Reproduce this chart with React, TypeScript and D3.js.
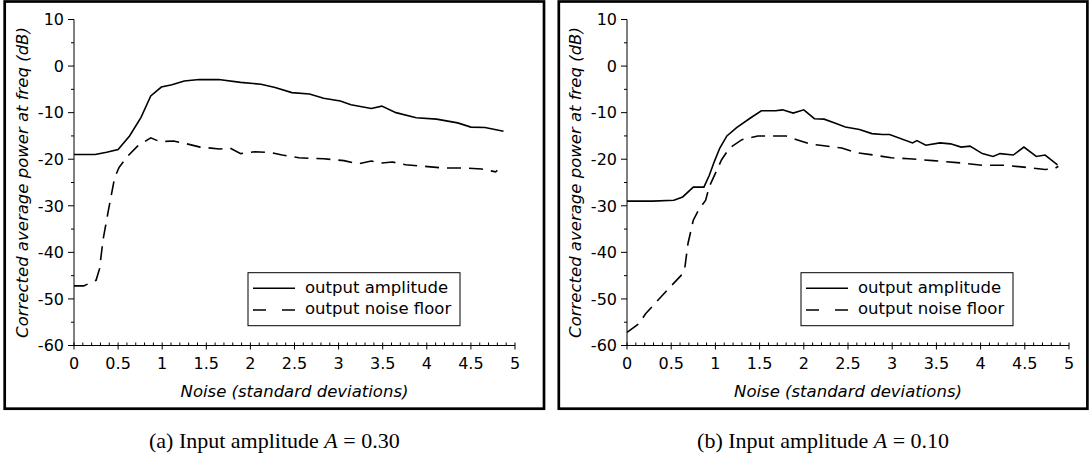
import React from 'react';
import * as d3 from 'd3';

// ---------- data ----------
const xTickValues = [0, 0.5, 1, 1.5, 2, 2.5, 3, 3.5, 4, 4.5, 5];
const yTickValues = [10, 0, -10, -20, -30, -40, -50, -60];
const xDomain = [0, 5];
const yDomain = [-60, 10];

// Panel (a): A = 0.30
const aAmpX = [0, 0.12, 0.24, 0.37, 0.5, 0.63, 0.76, 0.87, 0.99, 1.11, 1.25, 1.42, 1.64, 1.89, 2.12, 2.28, 2.47, 2.67, 2.83, 3.02, 3.14, 3.37, 3.49, 3.65, 3.88, 4.11, 4.35, 4.5, 4.66, 4.87];
const aAmpY = [-19, -19, -19, -18.5, -17.9, -15, -11, -6.4, -4.5, -4, -3.2, -2.9, -2.9, -3.5, -3.9, -4.6, -5.7, -6, -6.9, -7.5, -8.3, -9.1, -8.6, -10, -11.1, -11.4, -12.2, -13.1, -13.2, -14];
const aNoiseX = [0, 0.11, 0.25, 0.29, 0.33, 0.39, 0.46, 0.51, 0.6, 0.72, 0.87, 0.97, 1.13, 1.28, 1.43, 1.65, 1.77, 1.89, 2.05, 2.24, 2.36, 2.55, 2.83, 3.06, 3.22, 3.37, 3.49, 3.61, 3.76, 3.96, 4.19, 4.43, 4.62, 4.78, 4.8];
const aNoiseY = [-47.2, -47.2, -46, -43.5, -37.2, -31, -24, -21.8, -19.5, -17.2, -15.4, -16.2, -16.1, -16.7, -17.4, -17.8, -17.6, -18.8, -18.4, -18.6, -19.1, -19.7, -19.9, -20.3, -21, -20.4, -20.8, -20.6, -21.2, -21.5, -21.9, -21.9, -22.1, -22.7, -22.4];

// Panel (b): A = 0.10
const bAmpX = [0, 0.29, 0.53, 0.63, 0.75, 0.87, 0.93, 0.99, 1.05, 1.13, 1.24, 1.4, 1.52, 1.68, 1.76, 1.88, 2.0, 2.12, 2.23, 2.35, 2.47, 2.63, 2.77, 2.89, 2.97, 3.23, 3.28, 3.38, 3.54, 3.66, 3.78, 3.88, 4.02, 4.14, 4.22, 4.37, 4.49, 4.63, 4.73, 4.87];
const bAmpY = [-29, -29, -28.8, -28.1, -26, -26, -23.5, -20.4, -17.6, -15, -13.2, -11.1, -9.6, -9.6, -9.4, -10.1, -9.4, -11.3, -11.4, -12.2, -13.1, -13.6, -14.5, -14.7, -14.7, -16.5, -16, -17, -16.5, -16.7, -17.4, -17.2, -18.8, -19.4, -18.8, -19.1, -17.4, -19.4, -19.1, -21.2];
const bNoiseX = [0, 0.13, 0.21, 0.31, 0.45, 0.61, 0.65, 0.69, 0.75, 0.81, 0.89, 0.93, 1.01, 1.07, 1.16, 1.3, 1.48, 1.8, 1.92, 2.08, 2.23, 2.43, 2.59, 2.79, 2.99, 3.19, 3.46, 3.78, 4.02, 4.26, 4.49, 4.73, 4.83, 4.88];
const bNoiseY = [-57.2, -55.4, -53.2, -51.1, -48.2, -45, -43.9, -38.1, -33.1, -30.9, -28.8, -25.9, -22.6, -20.1, -17.6, -15.8, -15, -15, -15.8, -16.8, -17.1, -17.6, -18.6, -19.1, -19.7, -19.9, -20.3, -20.8, -21.3, -21.3, -21.7, -22.2, -22.1, -21.5];

const legendLabels = ['output amplitude', 'output noise floor'];
const xAxisLabel = 'Noise (standard deviations)';
const yAxisLabel = 'Corrected average power at freq (dB)';
const captionPrefixes = ['(a) Input amplitude ', '(b) Input amplitude '];
const captionValues = ['0.30', '0.10'];

// ---------- layout ----------
const W = 1089;
const H = 460;
const panels = [
  { fx0: 4.7, fx1: 544, px0: 74, px1: 515, ampX: aAmpX, ampY: aAmpY, noiseX: aNoiseX, noiseY: aNoiseY },
  { fx0: 558.8, fx1: 1087.4, px0: 627, px1: 1069, ampX: bAmpX, ampY: bAmpY, noiseX: bNoiseX, noiseY: bNoiseY },
];
const frameTop = 1.5;
const frameBottom = 408.7;
const plotTop = 19.5;
const plotBottom = 345.5;
const tickFont = "'DejaVu Sans', sans-serif";
const DASH = '14 8';

function Panel({ p, idx }: { p: any; idx: number }) {
  const x = d3.scaleLinear().domain(xDomain).range([p.px0, p.px1]);
  const y = d3.scaleLinear().domain(yDomain).range([plotBottom, plotTop]);
  const line = d3.line<[number, number]>().x(d => x(d[0])).y(d => y(d[1]));
  const ampPts = p.ampX.map((v: number, i: number) => [v, p.ampY[i]] as [number, number]);
  const noisePts = p.noiseX.map((v: number, i: number) => [v, p.noiseY[i]] as [number, number]);
  const minorX = d3.range(0, 50).map(i => i / 10).filter(v => !xTickValues.includes(v));
  const minorY = d3.range(-55, 10, 10);
  const lx = p.px0 + 174;
  const ly = 272.7;
  const lw = 212;
  const lh = 53;
  const plotMidX = (p.px0 + p.px1) / 2;
  const frameMid = (p.fx0 + p.fx1) / 2;
  return (
    <g>
      <rect x={p.fx0} y={frameTop} width={p.fx1 - p.fx0} height={frameBottom - frameTop} fill="#fff" stroke="#000" strokeWidth={2.7} />
      {/* axes */}
      <line x1={p.px0} x2={p.px0} y1={plotTop} y2={plotBottom} stroke="#000" strokeWidth={1} />
      <line x1={p.px0} x2={p.px1} y1={plotBottom} y2={plotBottom} stroke="#000" strokeWidth={1} />
      {yTickValues.map(v => (
        <g key={'yt' + v}>
          <line x1={p.px0 - 6} x2={p.px0} y1={y(v)} y2={y(v)} stroke="#000" strokeWidth={1} />
          <text x={p.px0 - 10} y={y(v)} dy="0.36em" textAnchor="end" fontFamily={tickFont} fontSize={16}>{v}</text>
        </g>
      ))}
      {minorY.map(v => (
        <line key={'ym' + v} x1={p.px0 - 3} x2={p.px0} y1={y(v)} y2={y(v)} stroke="#000" strokeWidth={1} />
      ))}
      {xTickValues.map(v => (
        <g key={'xt' + v}>
          <line x1={x(v)} x2={x(v)} y1={plotBottom - 3} y2={plotBottom + 4} stroke="#000" strokeWidth={1} />
          <text x={x(v)} y={plotBottom + 23} textAnchor="middle" fontFamily={tickFont} fontSize={16}>{String(v)}</text>
        </g>
      ))}
      {minorX.map(v => (
        <line key={'xm' + v} x1={x(v)} x2={x(v)} y1={plotBottom - 3} y2={plotBottom} stroke="#000" strokeWidth={1} />
      ))}
      {/* data */}
      <path d={line(noisePts) || ''} fill="none" stroke="#000" strokeWidth={1.6} strokeDasharray={DASH} />
      <path d={line(ampPts) || ''} fill="none" stroke="#000" strokeWidth={1.6} />
      {/* legend */}
      <rect x={lx} y={ly} width={lw} height={lh} fill="#fff" stroke="#000" strokeWidth={1} />
      <line x1={lx + 5} x2={lx + 47} y1={ly + 15.6} y2={ly + 15.6} stroke="#000" strokeWidth={1.6} />
      <line x1={lx + 5} x2={lx + 47} y1={ly + 37.3} y2={ly + 37.3} stroke="#000" strokeWidth={1.6} strokeDasharray="13 16" />
      <text x={lx + 57} y={ly + 20.5} fontFamily={tickFont} fontSize={16.5}>{legendLabels[0]}</text>
      <text x={lx + 57} y={ly + 41.5} fontFamily={tickFont} fontSize={16.5}>{legendLabels[1]}</text>
      {/* axis labels */}
      <text x={plotMidX} y={397} textAnchor="middle" fontFamily={tickFont} fontStyle="italic" fontSize={16.5}>{xAxisLabel}</text>
      <text transform={`translate(${p.px0 - 52},${(plotTop + plotBottom) / 2}) rotate(-90)`} textAnchor="middle" dy="0.35em" fontFamily={tickFont} fontStyle="italic" fontSize={16.5}>{yAxisLabel}</text>
      {/* caption */}
      <text x={frameMid} y={448} textAnchor="middle" fontFamily="'Liberation Serif', serif" fontSize={22}>
        {captionPrefixes[idx]}
        <tspan fontStyle="italic">A</tspan>
        {' = ' + captionValues[idx]}
      </text>
    </g>
  );
}

export default function App() {
  return (
    <div style={{ position: 'absolute', left: 0, top: 0 }}>
      <svg width={W} height={H} style={{ display: 'block', background: '#fff' }}>
        <rect width={W} height={H} fill="#fff" />
        {panels.map((p, i) => <Panel key={i} p={p} idx={i} />)}
      </svg>
    </div>
  );
}
